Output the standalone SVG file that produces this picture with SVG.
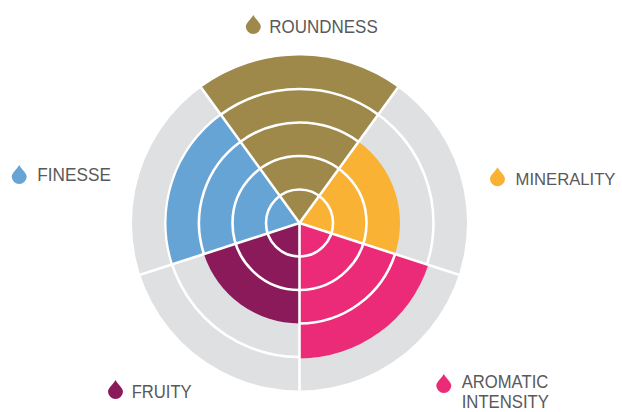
<svg xmlns="http://www.w3.org/2000/svg" xmlns:xlink="http://www.w3.org/1999/xlink" width="622" height="412" viewBox="0 0 622 412">
  <style>
    .lbl { font-family: "Liberation Sans", Arial, sans-serif; font-size: 18.5px; fill: #59595b; }
    .sm { font-size: 17.5px; }
    .sep { fill: none; stroke: #ffffff; stroke-width: 2.6; }
  </style>
  <defs>
    <path id="drop" d="M0,0 C1.5,3.5 7.5,8 7.5,11.5 A7.5,7.5 0 0 1 -7.5,11.5 C-7.5,8 -1.5,3.5 0,0 Z"/>
  </defs>
  <rect width="622" height="412" fill="#ffffff"/>

  <g id="background">
    <circle cx="299.5" cy="223" r="167.5" fill="#dfe0e1"/>
    <circle class="sep" cx="299.5" cy="223" r="134"/>
  </g>

  <g id="finesse">
    <path d="M299.5,223 L173.01,264.10 A133,133 0 0 1 221.32,115.40 Z" fill="#67a4d6"/>
    <use xlink:href="#drop" x="19.2" y="165" fill="#67a4d6"/>
    <text class="lbl" x="37.3" y="181" textLength="73.7" lengthAdjust="spacingAndGlyphs">FINESSE</text>
  </g>

  <g id="aromatic-intensity">
    <path d="M299.5,223 L428.37,264.87 A135.5,135.5 0 0 1 299.5,358.5 Z" fill="#ec2b78"/>
    <use xlink:href="#drop" x="443.8" y="374" fill="#ec2b78"/>
    <text class="lbl sm" x="461.7" y="388.3" textLength="86.6" lengthAdjust="spacingAndGlyphs">AROMATIC</text>
    <text class="lbl sm" x="461.7" y="408" textLength="87.3" lengthAdjust="spacingAndGlyphs">INTENSITY</text>
  </g>

  <g id="roundness">
    <path d="M299.5,223 L201.05,87.49 A167.5,167.5 0 0 1 397.95,87.49 Z" fill="#9e894a"/>
    <use xlink:href="#drop" x="253.3" y="15" fill="#9e894a"/>
    <text class="lbl" x="269.3" y="33" style="font-size:19px" textLength="108.4" lengthAdjust="spacingAndGlyphs">ROUNDNESS</text>
  </g>

  <g id="minerality">
    <path d="M299.5,223 L358.57,141.69 A100.5,100.5 0 0 1 395.08,254.06 Z" fill="#f9b233"/>
    <use xlink:href="#drop" x="497.5" y="167.3" fill="#f9b233"/>
    <text class="lbl" x="515.5" y="185.3" style="font-size:17px" textLength="100" lengthAdjust="spacingAndGlyphs">MINERALITY</text>
  </g>

  <g id="fruity">
    <path d="M299.5,223 L299.5,323.5 A100.5,100.5 0 0 1 203.92,254.06 Z" fill="#8b1a5b"/>
    <use xlink:href="#drop" x="115.5" y="380" fill="#8b1a5b"/>
    <text class="lbl" x="131.7" y="397.7" textLength="60" lengthAdjust="spacingAndGlyphs">FRUITY</text>
  </g>

  <g id="connectors">
    <circle class="sep" cx="299.5" cy="223" r="33.5"/>
    <circle class="sep" cx="299.5" cy="223" r="67"/>
    <path class="sep" d="M240.43,141.69 A100.5,100.5 0 0 1 358.57,141.69"/>
    <path class="sep" d="M395.08,254.06 A100.5,100.5 0 0 1 299.5,323.5"/>
    <path class="sep" d="M203.92,254.06 A100.5,100.5 0 0 1 240.43,141.69"/>
    <path class="sep" d="M220.74,114.59 A134,134 0 0 1 378.26,114.59"/>
    <path class="sep" d="M299.5,223 L397.95,87.49"/>
    <path class="sep" d="M299.5,223 L458.80,274.76"/>
    <path class="sep" d="M299.5,223 L299.5,390.5"/>
    <path class="sep" d="M299.5,223 L140.20,274.76"/>
    <path class="sep" d="M299.5,223 L201.05,87.49"/>
  </g>
</svg>
